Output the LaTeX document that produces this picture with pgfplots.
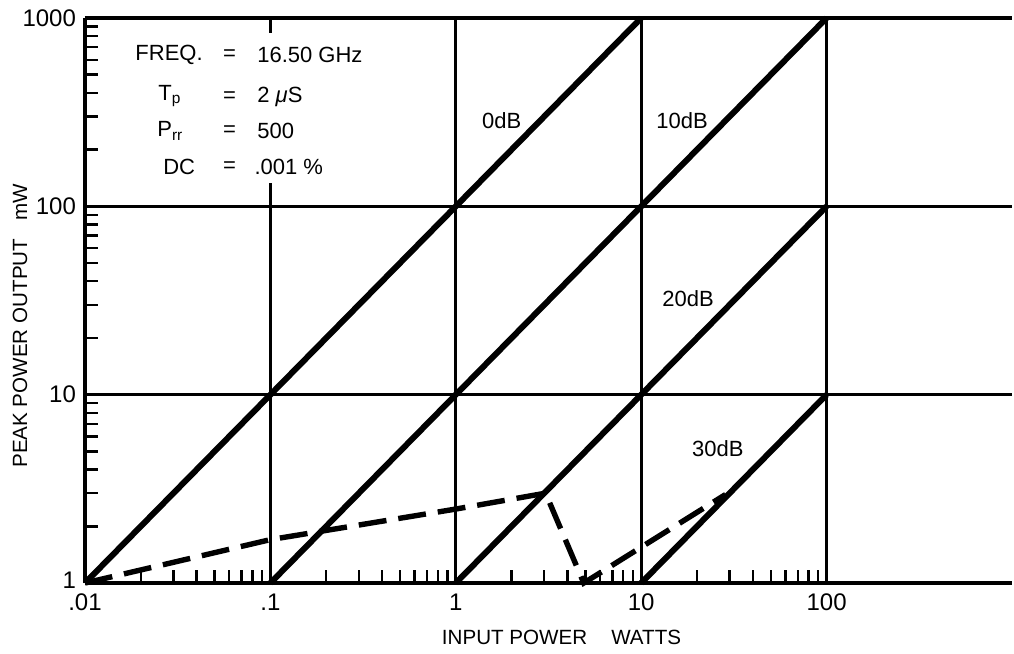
\documentclass[border=0pt]{standalone}
\usepackage{pgfplots}
\pgfplotsset{compat=1.18}
\usepackage{fontspec}
\setmainfont{Liberation Sans}
\begin{document}
\begin{tikzpicture}
\begin{axis}[
  scale only axis, width=463.5pt, height=282.5pt,
  xmode=log, ymode=log,
  xmin=0.01, xmax=1000, ymin=1, ymax=1000,
  axis x line*=bottom, axis y line*=left,
  axis line style={line width=2pt},
  xtick={0.01,0.1,1,10,100}, xticklabels={.01,.1,1,10,100},
  ytick={1,10,100,1000}, yticklabels={\raisebox{3pt}{1},10,100,1000},
  grid=major, major grid style={line width=1.6pt, black},
  tick align=inside, major tick length=0pt, minor tick length=6.5pt,
  minor tick style={line width=1.2pt, black},
  tick label style={font=\fontsize{12}{14}\selectfont},
  yticklabel style={xshift=-1pt},
  xticklabel style={yshift=-2pt},
  /pgf/number format/assume math mode=true,
  xlabel={INPUT POWER\hspace{12pt}WATTS},
  ylabel={PEAK POWER OUTPUT\hspace{9pt}mW},
  label style={font=\fontsize{10.3}{12}\selectfont},
  xlabel style={at={([xshift=6.5pt,yshift=-27pt]axis description cs:0.5,0)}, anchor=center},
  ylabel style={at={([xshift=-32.5pt]axis description cs:0,0.455)}, anchor=center},
  clip=false,
]
\fill[white] (rel axis cs:0.043,0.708) rectangle (rel axis cs:0.313,0.973);
\addplot[line width=3pt] coordinates {(0.01,1) (10,1000)};
\addplot[line width=3pt] coordinates {(0.1,1) (100,1000)};
\addplot[line width=3pt] coordinates {(1,1) (100,100)};
\addplot[line width=3pt] coordinates {(10,1) (100,10)};
\addplot[line width=2.7pt, dash pattern=on 14pt off 6pt] coordinates {(0.01,1) (0.1,1.7) (1,2.47) (3.05,3.0) (4.9,1) (28.5,2.95)};
\draw[line width=2pt] (rel axis cs:0,1) -- (rel axis cs:1,1);
\begin{scope}[font=\fontsize{11}{13}\selectfont]
\node[anchor=west, inner sep=0pt] at (rel axis cs:0.054,0.9345) {FREQ.};
\node at (rel axis cs:0.156,0.9345) {=};
\node[anchor=west, inner sep=0pt] at (rel axis cs:0.1855,0.9345) {16.50 GHz};
\node[anchor=west, inner sep=0pt] at (rel axis cs:0.0787,0.862) {T\textsubscript{p}};
\node at (rel axis cs:0.156,0.860) {=};
\node[anchor=west, inner sep=0pt] at (rel axis cs:0.1855,0.860) {2 \textit{μ}S};
\node[anchor=west, inner sep=0pt] at (rel axis cs:0.0776,0.800) {P\textsubscript{rr}};
\node at (rel axis cs:0.156,0.800) {=};
\node[anchor=west, inner sep=0pt] at (rel axis cs:0.1855,0.800) {500};
\node[anchor=west, inner sep=0pt] at (rel axis cs:0.084,0.736) {DC};
\node at (rel axis cs:0.156,0.736) {=};
\node[anchor=west, inner sep=0pt] at (rel axis cs:0.1825,0.736) {.001 \%};
\node at (axis cs:1.77,285) {0dB};
\node at (axis cs:16.6,285) {10dB};
\node at (axis cs:17.9,32.2) {20dB};
\node at (axis cs:25.9,5.18) {30dB};
\end{scope}
\end{axis}
\pgfresetboundingbox
\path ([shift={(-42.5pt,-35pt)}]current axis.south west) rectangle ([shift={(1pt,9pt)}]current axis.north east);
\end{tikzpicture}
\end{document}
